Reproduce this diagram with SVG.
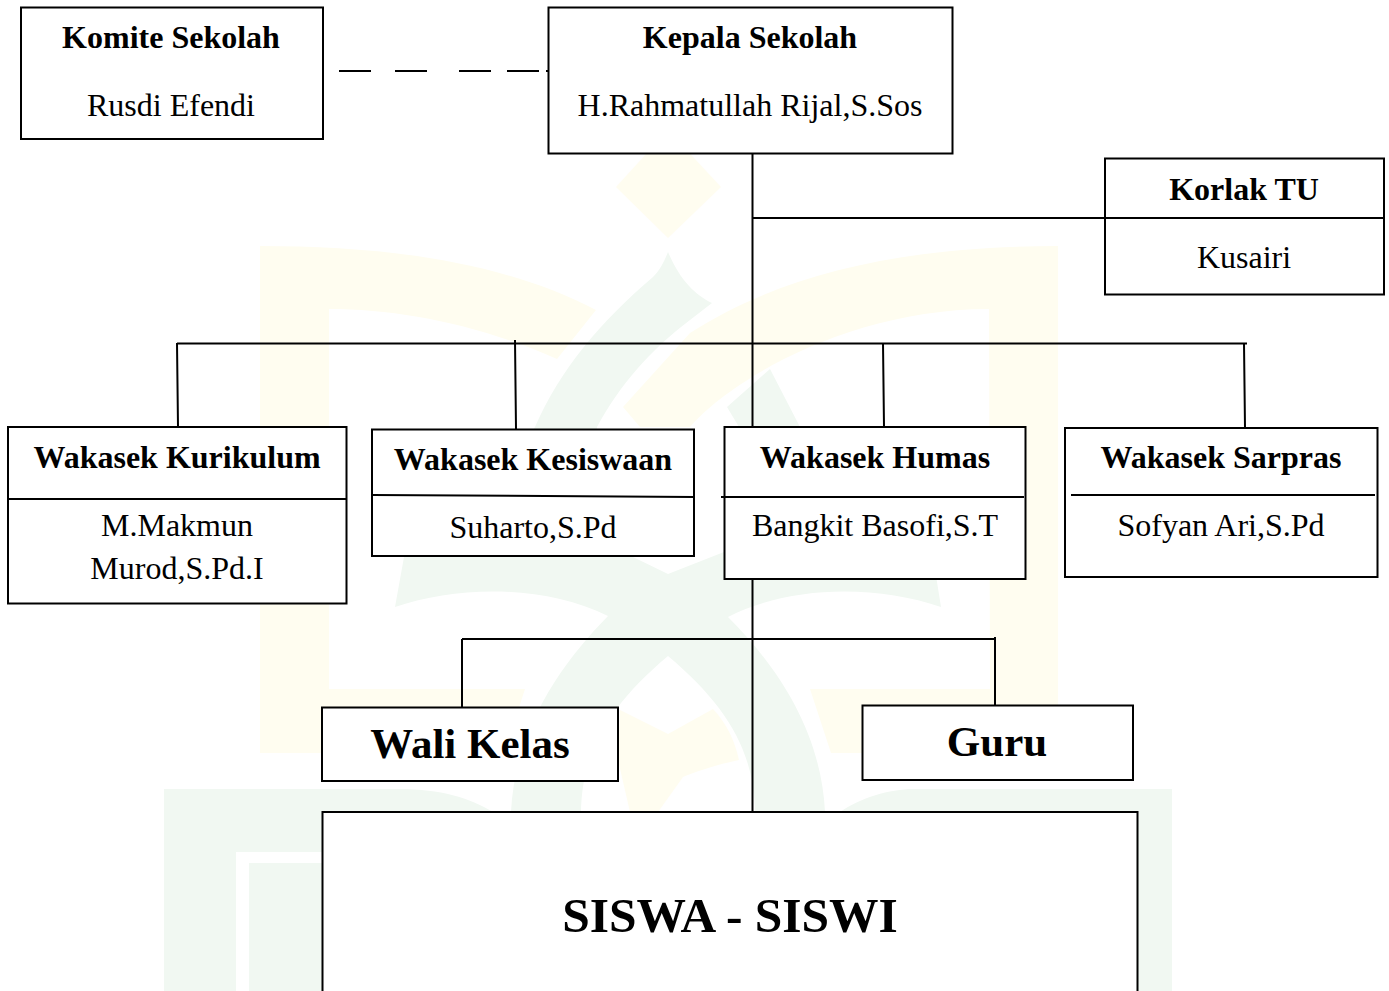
<svg xmlns="http://www.w3.org/2000/svg" width="1389" height="991" viewBox="0 0 1389 991">
<style>
.y{fill:#fffdf0;stroke:none}
.g{fill:#f1f8f2;stroke:none}
.b{fill:#fff;stroke:#000;stroke-width:2}
.l{fill:none;stroke:#000;stroke-width:2}
text{font-family:"Liberation Serif","Times New Roman",serif;fill:#000;text-anchor:middle}
.h{font-size:32px;font-weight:bold}
.t{font-size:32px}
</style>
<rect width="1389" height="991" fill="#fff"/>
<g id="watermark">
<path class="y" d="M616 187L668 130L721 187L668 238Z"/>
<path class="y" d="M260 246C380 246 500 260 596 310L557 359C480 325 400 309 329 309V689H525L515 720L500 753H260Z"/>
<path class="y" d="M1058 246C900 246 780 275 690 333L623 407L640 427H690C730 380 850 309 989 309L990 689H810L831 753H1058Z"/>
<path class="y" d="M620 710L668 734L713 709C728 725 735 742 739 760C715 765 695 772 683 777L658 812H630L618 760Z"/>
<path class="g" d="M668 252C664 262 660 270 653 277C600 322 560 370 535 427C500 480 430 510 404 557L395 607C460 585 545 585 608 616C560 665 515 730 511 812H581C582 750 610 705 668 656C726 705 754 750 755 812H825C821 730 776 665 728 617C791 585 876 585 941 607L933 557C880 510 835 480 800 427L770 369L727 407L739 427L745 550L724 552L668 574L633 557L600 540L597 427C620 385 650 350 690 320L712 303C695 295 680 280 668 252Z"/>
<path class="g" d="M164 789H400C440 789 470 798 493 812H322V852H236V991H164Z"/>
<rect class="g" x="249" y="863" width="73" height="128"/>
<path class="g" d="M840 812C860 798 890 789 913 789H1172V991H1137V812Z"/>
</g>
<g id="connectors">
<path class="l" d="M752.500 153V812"/>
<path class="l" d="M752.500 218H1105"/>
<path class="l" d="M177 343.500H1247"/>
<path class="l" d="M177 343L178 427M515 340L516 429M883 343L884 427M1244 343L1245 428"/>
<path class="l" d="M462 639H995M462 639V707M995 637V705"/>
<path class="l" d="M339 71H371M395 71H427M459 71H491M507 71H539M546 71H549"/>
</g>
<g id="komite"><rect class="b" x="21" y="7.500" width="302" height="131.500"/><text class="h" x="171" y="48">Komite Sekolah</text><text class="t" x="171" y="116">Rusdi Efendi</text></g>
<g id="kepala"><rect class="b" x="548.500" y="7.500" width="404" height="146"/><text class="h" x="750" y="48">Kepala Sekolah</text><text class="t" x="750" y="116">H.Rahmatullah Rijal,S.Sos</text></g>
<g id="korlak"><rect class="b" x="1105" y="158.500" width="279" height="136"/><path class="l" d="M1105 218H1384"/><text class="h" x="1244" y="200">Korlak TU</text><text class="t" x="1244" y="268">Kusairi</text></g>
<g id="kurikulum"><rect class="b" x="8" y="427" width="338.500" height="176.500"/><path class="l" d="M8 499H346"/><text class="h" x="177" y="468">Wakasek Kurikulum</text><text class="t" x="177" y="536">M.Makmun</text><text class="t" x="177" y="579">Murod,S.Pd.I</text></g>
<g id="kesiswaan"><rect class="b" x="372" y="429.500" width="322" height="126.500"/><path class="l" d="M372 495L694 497"/><text class="h" x="533" y="470">Wakasek Kesiswaan</text><text class="t" x="533" y="538">Suharto,S.Pd</text></g>
<g id="humas"><rect class="b" x="724.500" y="427" width="301" height="152"/><path class="l" d="M721 497H1024"/><text class="h" x="875" y="468">Wakasek Humas</text><text class="t" x="875" y="536">Bangkit Basofi,S.T</text></g>
<g id="sarpras"><rect class="b" x="1065" y="428" width="312.500" height="149"/><path class="l" d="M1071 495H1375"/><text class="h" x="1221" y="468">Wakasek Sarpras</text><text class="t" x="1221" y="536">Sofyan Ari,S.Pd</text></g>
<g id="wali"><rect class="b" x="322" y="707.500" width="296" height="73.500"/><text x="470" y="758" font-size="43" font-weight="bold">Wali Kelas</text></g>
<g id="guru"><rect class="b" x="862.500" y="705.500" width="270.500" height="74.500"/><text x="997" y="756" font-size="43" font-weight="bold">Guru</text></g>
<g id="siswa"><rect class="b" x="322.500" y="812" width="815" height="190"/><text x="730" y="932" font-size="49.500" font-weight="bold">SISWA - SISWI</text></g>
</svg>
